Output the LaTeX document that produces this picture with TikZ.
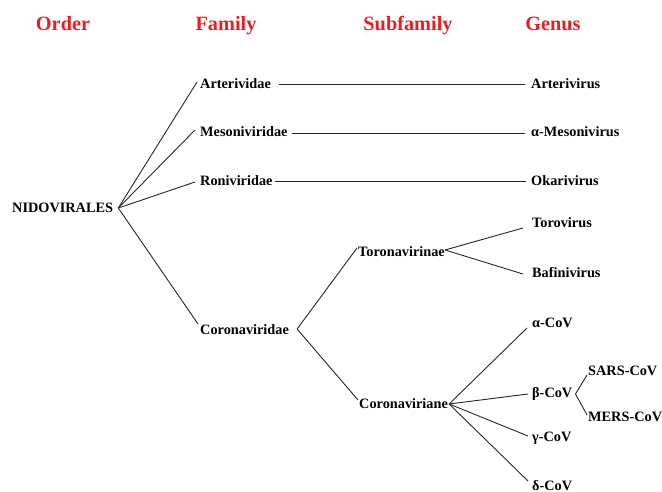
\documentclass[tikz,border=0pt]{standalone}
\usepackage{fontspec}
\setmainfont{Liberation Serif}
\definecolor{hdrred}{RGB}{228,32,38}
\begin{document}
\begin{tikzpicture}[x=1pt,y=-1pt,
  lbl/.style={anchor=west,inner sep=0pt,font=\bfseries\fontsize{14.3}{16}\selectfont,text height=9.4pt,text depth=0pt},
  hdr/.style={anchor=base,inner sep=0pt,font=\bfseries\fontsize{20.3}{24}\selectfont,text=hdrred},
  link/.style={draw=black!85,line width=0.9pt}]
\useasboundingbox (0,0) rectangle (662,491);
% headers
\node[hdr] (hOrder) at (63,30) {Order};
\node[hdr] (hFamily) at (226,30) {Family};
\node[hdr] (hSub) at (408,30) {Subfamily};
\node[hdr] (hGenus) at (553,30) {Genus};
% order
\node[lbl] (nid) at (12,208) {NIDOVIRALES};
% families
\node[lbl] (art) at (200,84) {Arterividae};
\node[lbl] (mes) at (200,132) {Mesoniviridae};
\node[lbl] (ron) at (200,181) {Roniviridae};
\node[lbl] (cor) at (200,330) {Coronaviridae};
% subfamilies
\node[lbl] (toro) at (358,252) {Toronavirinae};
\node[lbl] (cvn) at (359,404) {Coronaviriane};
% genera
\node[lbl] (artv) at (531,84) {Arterivirus};
\node[lbl] (mesv) at (531,132) {α-Mesonivirus};
\node[lbl] (oka) at (531,181) {Okarivirus};
\node[lbl] (torv) at (532,223) {Torovirus};
\node[lbl] (baf) at (532,273) {Bafinivirus};
\node[lbl] (acov) at (532,323) {α-CoV};
\node[lbl] (bcov) at (532,393) {β-CoV};
\node[lbl] (gcov) at (532,437) {γ-CoV};
\node[lbl] (dcov) at (532,486) {δ-CoV};
\node[lbl] (sars) at (588,371) {SARS-CoV};
\node[lbl] (mers) at (588,417) {MERS-CoV};
% connectors: order -> families
\coordinate (nidj) at ([shift={(5,0)}]nid.east);
\draw[link] (nidj) -- ([shift={(-3,-2)}]art.west);
\draw[link] (nidj) -- ([shift={(-5,-2)}]mes.west);
\draw[link] (nidj) -- ([shift={(-5,1)}]ron.west);
\draw[link] (nidj) -- ([shift={(-2,-6)}]cor.west);
% families -> genera
\draw[link] ([shift={(8,0)}]art.east) -- ([shift={(-6,0)}]artv.west);
\draw[link] ([shift={(4,1)}]mes.east) -- ([shift={(-6,1)}]mesv.west);
\draw[link] ([shift={(2,0)}]ron.east) -- ([shift={(-5,0)}]oka.west);
% Coronaviridae -> subfamilies
\coordinate (corj) at ([shift={(8,-1)}]cor.east);
\draw[link] (corj) -- ([shift={(-1,-4)}]toro.west);
\draw[link] (corj) -- ([shift={(-1,-4)}]cvn.west);
% Toronavirinae -> genera
\coordinate (toroj) at ([shift={(0,-2)}]toro.east);
\draw[link] (toroj) -- ([shift={(-9,5)}]torv.west);
\draw[link] (toroj) -- ([shift={(-9,1)}]baf.west);
% Coronaviriane -> genera
\coordinate (cvnj) at ([shift={(1,0)}]cvn.east);
\draw[link] (cvnj) -- ([shift={(-5,5)}]acov.west);
\draw[link] (cvnj) -- ([shift={(-4,1)}]bcov.west);
\draw[link] (cvnj) -- ([shift={(-4,-1)}]gcov.west);
\draw[link] (cvnj) -- ([shift={(-4,-5)}]dcov.west);
% beta-CoV -> lineages
\coordinate (bcovj) at ([shift={(3,1)}]bcov.east);
\draw[link] (bcovj) -- ([shift={(-1,4)}]sars.west);
\draw[link] (bcovj) -- ([shift={(-1,-2)}]mers.west);
\end{tikzpicture}
\end{document}
